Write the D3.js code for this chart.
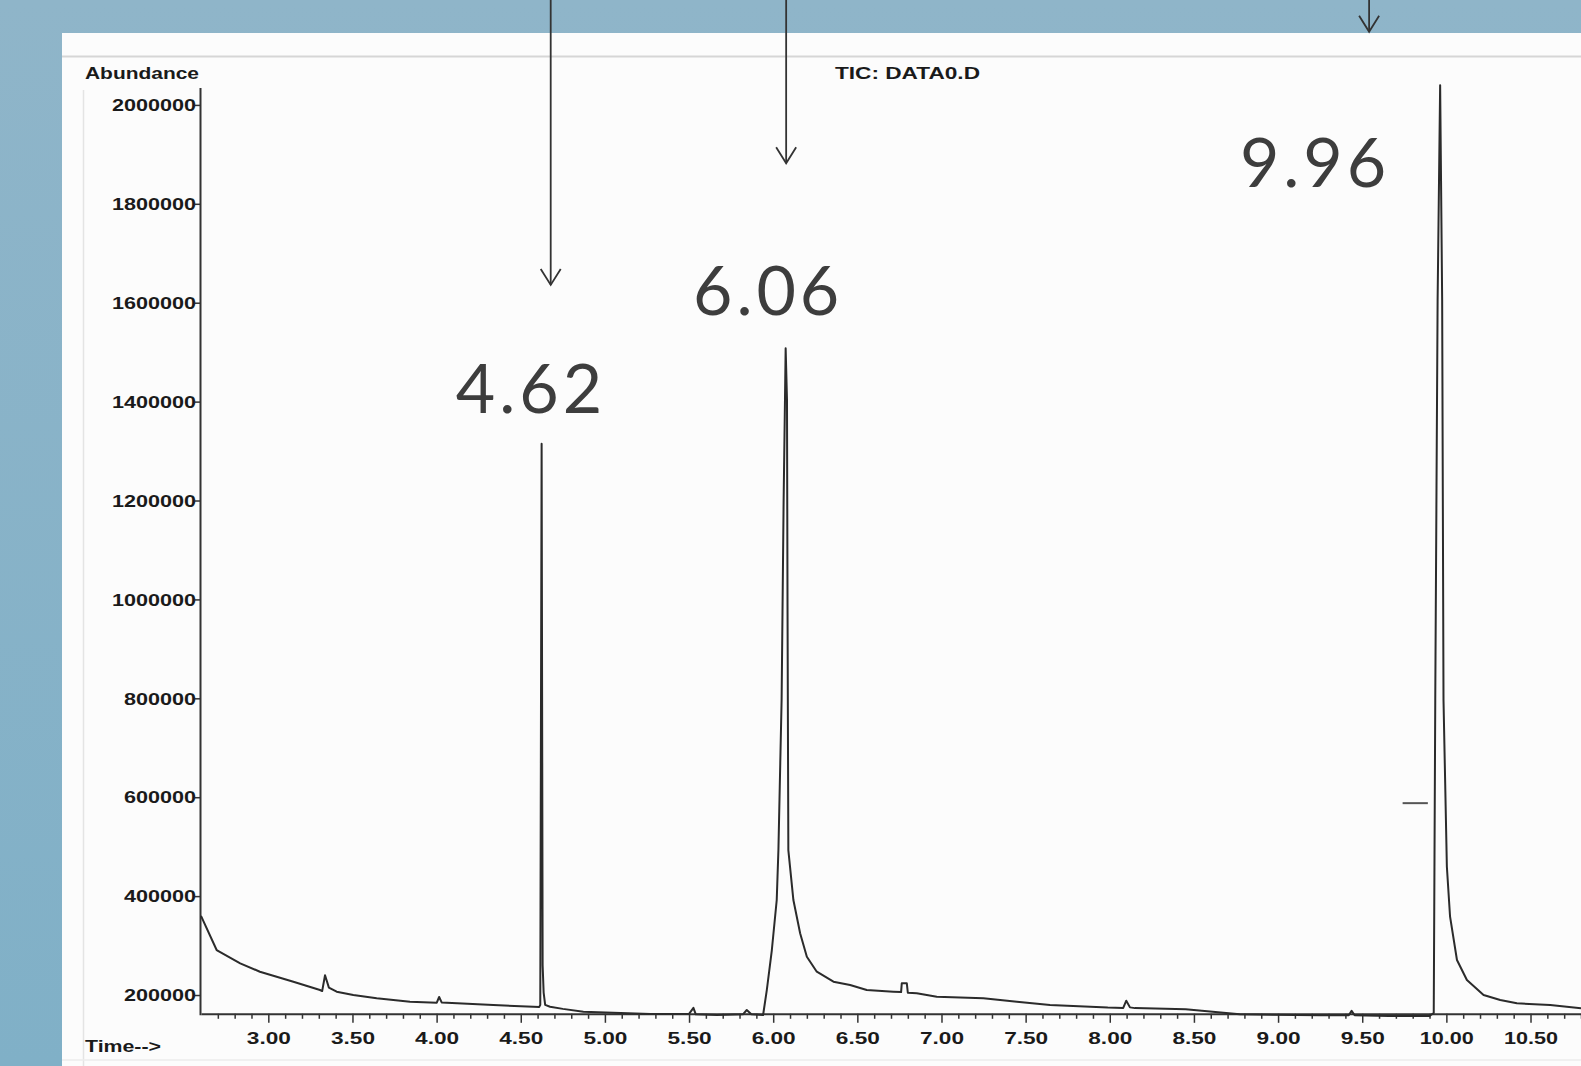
<!DOCTYPE html>
<html>
<head>
<meta charset="utf-8">
<script src="https://cdn.jsdelivr.net/npm/d3@7"></script>
<style>
  body { margin: 0; background: #8cb4c8; overflow: hidden; }
  .axisText { font-family: "Liberation Sans", Arial, sans-serif; font-weight: bold; font-size: 16px; fill: #1a1a1a; }
  .peakText { font-family: Lato, "Open Sans", sans-serif; font-size: 68px; fill: #3d3d3d; letter-spacing: 4px; }
</style>
</head>
<body>
<div id="chart"></div>
<script>
// canvas size
var width = 1581;
var height = 1066;

// chromatogram trace (retention time in min, abundance)
var times = [2.600, 2.693, 2.833, 2.950, 3.149, 3.307, 3.320, 3.337, 3.360, 3.406,
  3.505, 3.644, 3.842, 4.001, 4.015, 4.030, 4.337, 4.575, 4.610, 4.616,
  4.624, 4.630, 4.636, 4.645, 4.674, 4.750, 4.872, 5.270, 5.500, 5.526, 5.540,
  5.665, 5.820, 5.843, 5.870, 5.940, 5.962, 5.992, 6.021, 6.031, 6.050,
  6.062, 6.070, 6.074, 6.082, 6.085, 6.090, 6.120, 6.160, 6.200, 6.259,
  6.358, 6.457, 6.556, 6.714, 6.760, 6.764, 6.794, 6.800, 6.853, 6.972,
  7.249, 7.448, 7.645, 7.988, 8.080, 8.098, 8.120, 8.149, 8.451, 8.772,
  9.256, 9.420, 9.437, 9.455, 9.658, 9.900, 9.925, 9.934, 9.948, 9.963,
  9.975, 9.983, 10.003, 10.022, 10.063, 10.122, 10.221, 10.320, 10.419, 10.617,
  10.800];
var abundance = [360000, 291000, 264100, 247100, 226900, 210100, 208000, 240000, 215000, 206700,
  200000, 193300, 186500, 184400, 196000, 185000, 179800, 176300, 176000, 180000,
  1315000, 260000, 205000, 180000, 176300, 172000, 166200, 161600, 162000, 174000, 161000,
  159600, 161000, 169700, 161000, 159600, 210100, 291000, 392100, 493200, 796600,
  1201000, 1403000, 1508000, 1403000, 998800, 493200, 392100, 324800, 277500, 247100,
  226900, 220200, 210100, 206700, 206000, 223700, 223700, 204600, 203400, 196600,
  193300, 186500, 180000, 174700, 174000, 188500, 175000, 173500, 171300, 161200,
  158900, 159000, 168000, 159000, 157700, 157700, 163600, 796600, 1605700, 2040000,
  1605700, 796600, 459500, 358400, 270800, 230300, 200000, 189900, 183200, 179800,
  173100];

// integration marker left of the last peak
var markerTimes = [9.74, 9.89];
var markerLevel = 588000;

// axis ticks
var yTicks = [200000, 400000, 600000, 800000, 1000000, 1200000, 1400000, 1600000, 1800000, 2000000];
var xTicks = [3.0, 3.5, 4.0, 4.5, 5.0, 5.5, 6.0, 6.5, 7.0, 7.5, 8.0, 8.5, 9.0, 9.5, 10.0, 10.5];
var xMinorTicks = d3.range(26, 109).map(d => d / 10);

// slide annotations (label, where the label sits, where the arrow points)
var peakLabels = ["4.62", "6.06", "9.96"];
var labelTimes = [4.549, 5.958, 9.208];
var labelLevels = [1376000, 1576000, 1835000];
var arrowTimes = [4.678, 6.077, 9.541];
var arrowTips = [1636000, 1882000, 2148000];

var svg = d3.select("#chart")
  .append("svg")
  .attr("width", width)
  .attr("height", height);

// background + white panel
var defs = svg.append("defs");
var grad = defs.append("linearGradient").attr("id", "bg").attr("x1", 0).attr("y1", 0).attr("x2", 0).attr("y2", 1);
grad.append("stop").attr("offset", "0%").attr("stop-color", "#8fb5c9");
grad.append("stop").attr("offset", "100%").attr("stop-color", "#80b0c7");
svg.append("rect").attr("width", width).attr("height", height).attr("fill", "url(#bg)");
svg.append("rect")
  .attr("x", 62).attr("y", 33)
  .attr("width", width - 62).attr("height", height - 33)
  .attr("fill", "#fcfcfc");

// faint scan frame
svg.append("line").attr("x1", 62).attr("x2", width).attr("y1", 56.5).attr("y2", 56.5)
  .attr("stroke", "#d6d6d6").attr("stroke-width", 2);
svg.append("line").attr("x1", 83.5).attr("x2", 83.5).attr("y1", 90).attr("y2", height)
  .attr("stroke", "#e4e4e4").attr("stroke-width", 1.5);
svg.append("line").attr("x1", 62).attr("x2", width).attr("y1", 1060).attr("y2", 1060)
  .attr("stroke", "#ececec").attr("stroke-width", 1.5);

// scales
var xscale = d3.scaleLinear()
  .domain([2.6, 10.8])
  .range([201, 1581]);
var yscale = d3.scaleLinear()
  .domain([160000, 2035000])
  .range([1014.8, 87.6]);

var chart1 = svg.append("g");

// y axis
var yAxis = d3.axisLeft(yscale)
  .tickValues(yTicks)
  .tickFormat(d3.format("d"))
  .tickSize(5)
  .tickSizeOuter(0);
var yg = chart1.append("g")
  .attr("transform", `translate(${xscale(2.6) - 1}, 0)`)
  .call(yAxis);
yg.select(".domain").attr("stroke", "#333").attr("stroke-width", 2);
yg.selectAll(".tick line").attr("stroke", "#333").attr("stroke-width", 1.5);
yg.selectAll(".tick text")
  .attr("class", "axisText")
  .attr("x", -4)
  .attr("dy", "0.36em")
  .attr("textLength", 84)
  .attr("lengthAdjust", "spacingAndGlyphs");
yg.selectAll(".tick text").filter(d => d < 1000000).attr("textLength", 72);

// x axis, minor ticks then major
var xMinor = d3.axisBottom(xscale)
  .tickValues(xMinorTicks.filter(d => xTicks.indexOf(d) < 0 && d > 2.6))
  .tickFormat("")
  .tickSize(5)
  .tickSizeOuter(0);
var xg2 = chart1.append("g")
  .attr("transform", `translate(0, ${yscale(160000) - 1})`)
  .call(xMinor);
xg2.selectAll(".tick line").attr("stroke", "#333").attr("stroke-width", 1.5);
xg2.select(".domain").remove();

var xAxis = d3.axisBottom(xscale)
  .tickValues(xTicks)
  .tickFormat(d3.format(".2f"))
  .tickSize(9)
  .tickSizeOuter(0);
var xg = chart1.append("g")
  .attr("transform", `translate(0, ${yscale(160000) - 1})`)
  .call(xAxis);
xg.select(".domain").attr("stroke", "#333").attr("stroke-width", 2);
xg.selectAll(".tick line").attr("stroke", "#333").attr("stroke-width", 1.5);
xg.selectAll(".tick text")
  .attr("class", "axisText")
  .attr("y", 24)
  .attr("dy", "0.36em")
  .attr("textLength", d => d >= 10 ? 54 : 44)
  .attr("lengthAdjust", "spacingAndGlyphs");

// axis captions
chart1.append("text")
  .attr("class", "axisText")
  .attr("x", 85).attr("y", 78.5)
  .attr("textLength", 114).attr("lengthAdjust", "spacingAndGlyphs")
  .text("Abundance");
chart1.append("text")
  .attr("class", "axisText")
  .attr("x", 85).attr("y", 1051.5)
  .attr("textLength", 76).attr("lengthAdjust", "spacingAndGlyphs")
  .text("Time-->");
chart1.append("text")
  .attr("class", "axisText")
  .attr("x", 835).attr("y", 78.5)
  .attr("textLength", 145).attr("lengthAdjust", "spacingAndGlyphs")
  .text("TIC: DATA0.D");

// trace
var pts = times.map((t, i) => [t, abundance[i]]);
var line = d3.line()
  .x(d => xscale(d[0]))
  .y(d => yscale(d[1]));
chart1.append("path")
  .datum(pts)
  .attr("d", line)
  .attr("fill", "none")
  .attr("stroke", "#2b2b2b")
  .attr("stroke-width", 2)
  .attr("stroke-linejoin", "round");

chart1.append("line")
  .attr("x1", xscale(markerTimes[0])).attr("x2", xscale(markerTimes[1]))
  .attr("y1", yscale(markerLevel)).attr("y2", yscale(markerLevel))
  .attr("stroke", "#555").attr("stroke-width", 2);

// peak annotations
var anno = peakLabels.map((p, i) => ({
  label: p, lt: labelTimes[i], lv: labelLevels[i], at: arrowTimes[i], tip: arrowTips[i]
}));
var ag = svg.append("g").selectAll("g").data(anno).enter().append("g");
ag.append("text")
  .attr("class", "peakText")
  .attr("x", d => xscale(d.lt) + 2)
  .attr("y", d => yscale(d.lv))
  .attr("text-anchor", "middle")
  .text(d => d.label);
ag.append("line")
  .attr("x1", d => xscale(d.at)).attr("x2", d => xscale(d.at))
  .attr("y1", 0).attr("y2", d => yscale(d.tip))
  .attr("stroke", "#333").attr("stroke-width", 1.8);
ag.append("path")
  .attr("d", d => {
    var x = xscale(d.at), y = yscale(d.tip);
    return `M${x - 10},${y - 16}L${x},${y}L${x + 10},${y - 16}`;
  })
  .attr("fill", "none")
  .attr("stroke", "#333")
  .attr("stroke-width", 1.8);
</script>
</body>
</html>
